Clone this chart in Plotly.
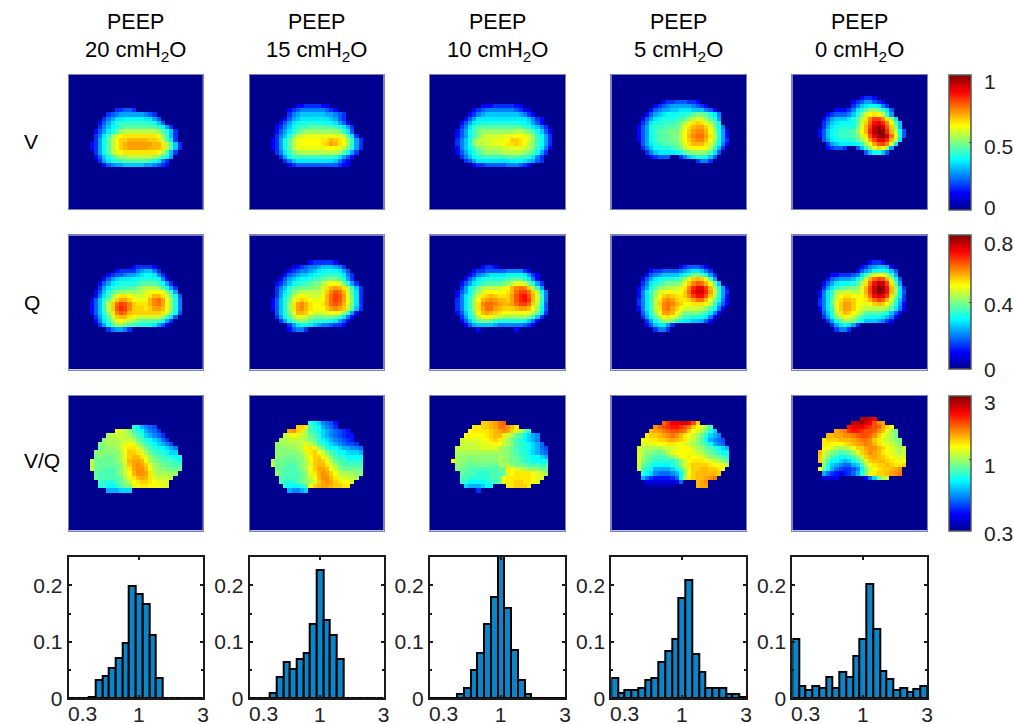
import math
import numpy as np
import plotly.graph_objects as go

FONT = "Liberation Sans, Arial, sans-serif"
PEEP_LABELS = ["20 cmH<sub>2</sub>O", "15 cmH<sub>2</sub>O", "10 cmH<sub>2</sub>O", "5 cmH<sub>2</sub>O", "0 cmH<sub>2</sub>O"]
ROW_LABELS = ["V", "Q", "V/Q"]

# Each map: first row, then "startcol levels|startcol levels" per row. Level 0..z = bottom..top of the colour range.
V_20 = (8, ["11 55665","9 567888888765","8 578aabbbbbaa86","7 468acdddddddcb96","7 579bcdeeeeeeeecb85","6 468aceghhhhhhhhgec95",
"6 57adgikllllllllјgd95".replace("ј","j"),"6 58behkmmnnnnnmmlhea5","5 458behkmnoooooonnlhe95","5 458behkmnooooonnnlhe95","6 58behjkllllllllkhe95",
"6 469bdfgghhhhhhgfdb8","7 58acddeeeeeedca75","8 4678899999887654"])
V_15 = (7, ["11 44555544","9 456777777654","9 57899999988765","8 4689aaaaaaa9865","7 468abccccccbba864","6 4579bdddeeeeeedca85",
"6 468acefggggggggfda6","6 579cfhijjjjjjjjjhea5","5 458behjkkkkkllnmlkgd85","5 458behjkkkkklmonlkgd85","5 458behjjjjjjjkkkjhfc85",
"6 57adfghhhhhhhhhgeb85","7 58bddddddddddca864","8 579aaaaaaaaa9754","9 456666666666544"])
V_10 = (7, ["12 4445555544","10 45677777776543","9 4578999999998754","8 468aaaaaaaaaaaa9754","7 468abcccccccccbba864","7 57adeeeeeeeeeeedca975",
"6 468bdfgggggggghhgfeb964","6 468bdfhiiiijjjkkjigdb85","6 579cfhiiijjjkmmlkigdb85","6 579cfhhiijjkllmlkhgdb85","6 479bdfghhhhiijjjihfda74",
"6 468acefgggghhhhhgfeb85","7 579bcddddddeeeddca75","8 568aaaaaaaabbba9865","10 45566666777654"])
V_5 = (6, ["12 455666554","10 4567888887654","9 4678899aaa999764","8 4689abbbccdeffeca7","7 468abcccddeghjigec8","7 57accdddefhjlmljheb",
"6 468bdddeeegjlnoomjfb7","6 468bdeefffhkmoppnkgc84","6 468bdeeeffhknpqqolhc84","6 468bdeeeffhkmoppnkgc85","7 68acdeeefgjlnnnlifb74",
"7 579bcccdefhjkkkjhd95","8 579aaaabcefggggea6","9 45666|16 579accb96","20 5775"])
V_0 = (5, ["16 4554","14 45688654","14 579abba75","10 44457aceggfda6","8 4566679cfiklkhd8","7 468999acehlpssplga","7 579abbbceimquvtpke9",
"7 58abccccfjnswywrmf9","6 469bcdddegkntxzytnhb6","6 469bcdddefilrvyzwqjc6","7 68abcccdegjosvvtnha","8 589aaaabdgkorspia",
"8 45665|15 69dgjmkg8","17 69bc96"])

Q_20 = (7, ["15 455554","11 45555789975","9 45667889abba75","8 4689aaabbccccb74","7 468abccccdeeeedb85","7 58acdddeefghhhgeb85",
"6 469cefggggghijkkjgd8","6 47adgjllkiiijlnnlifb6","5 469cfimoomkjjknpqokgc7","5 469dhmqsrpmlllnpqokgc7","5 469dhmrtspmmmlmoonkgc7",
"5 469cglprqnmmmmmmmlifb6","6 58beimnnlkiiiiiigda6","6 47adgjkjhgfeeeedb85","7 58beggfedcccba864","9 578875"])
Q_15 = (6, ["14 4555554","10 4456778999875","9 4567789abbbba86","8 467899abccdddca75","7 4689abbcddefffec85","6 4579bcddeffhikkifc85",
"6 579ceefffggilnonlhd95","6 58adfghhhhhjmprqniea5","6 58behjkjiiiknqsrojfa5","5 469cfjlmlkjjknqsrojfa5","5 469cglopnlkklnqrqnjfa5",
"5 469cglopnlkkkmopomie95","6 69cfjnnmkiiijkkjgd84","6 58behjjigfffffeda74","7 58befgfedcccba864","9 58abba98776554","9 46775"])
Q_10 = (7, ["12 4554","10 45566666777754","9 45789aaaabbbba854","8 468abccccddeeeca74","7 468acdeeeefghjjifc85","7 58bdfhhhhijknpqpmhd8",
"6 468begikkkjklnqssqmhc7","6 47acfilmnmllmorturnid7","6 57adgknoponnmortusnid7","6 57adglpqqponnoqssqmhc6","6 57adgloqqonmmmnoonkgb6",
"6 469cfknonmlkkjjkkjhea5","7 58behkkkihggggggfd95","7 469ceffedccccccb974","8 46899998777777654","11 4|20 4"])
Q_5 = (7, ["16 4566654","9 4556666789aa975","8 46789999abdffec85","7 468abcccdegjmnmje8","7 57acdefffgjmprqnke9","6 468begghhijlptvvsnhc84",
"6 47adgijkjjkmquwwtoid85","6 47adgkmnmllmpsuurmhc84","6 57adhlopomllmoqqnjfb74","6 57adhmpqpnmkklllkhd964","6 47adhlpqomkiiiihgeb74",
"7 69cgkoonkhffffeda74","7 58behkljhfddccba74","8 58beggfdbaa99864","8 469aa85","10 5775"])
Q_0 = (6, ["18 4554","16 45789984","15 4689bccb96","9 4455567adgjkkhd8","8 4678889beinqsrnhb6","7 468abbccehlquxwsle8","7 58adeeffgjnswzyunga5",
"6 47adghiihhjnswzyunga6","6 47adhkllkjkmquwvslfa5","6 57aeilnnmkklnqsrnid95","6 57aejmoomkjjkmnmkgc84","6 47adimoomkihhhhhgea74",
"7 69chlnmkigeeeedc964","7 58bfikjhfdcbbba974","8 58beggfdb9998754","9 58aba85","10 5775"])

VQ_20 = (7, ["15 dca987","11 jjigedca986","9 hiiiihfedba986","8 ghhhiiihfedcba86","7 gghhhijkjhfedcba97","7 fggghiklljhfedccba9",
"6 gggggghkmmljhfeddcbb","6 fgfffghjmnnljhfeeddcc","5 ifffffghjnoonkhgfeeedd","5 iffffffgimopomjhgffeee","5 iffeeefgiloppnkhggffff",
"6 feeeefgiknppolihhhhg","6 feeeeefhjlnonljiiih","7 edddefgiklmmlkjjj","7 ddccdefgjkllkkkjj","9 aaabbb"])
VQ_15 = (6, ["14 dcb9875","11 mmledca986","9 opmlhedcba98765","8 ijkjihfedba987655","7 hhiiiihgfdcba98765","6 ghhhhhijigedcba98776",
"6 gggghhikljhfdccbaa998","6 gggggghjlmkigedccbbba","6 ggfffggikmmkigeddcccc","5 hffffffghkmnmkhfeedddd","5 ifffeefghjmnnljhfeeeee",
"6 ffeeefghkmoonkigfffff","6 gfeeeefgjlnpomkihhhgg","7 eeeeefgiknppnljjiih","7 edddefghjmopomlkkj","8 dcccdekmnoonmmll","9 a99ab"])
VQ_10 = (6, ["12 mmnoqr","10 llmmnoqqpnl","9 kllllmnopomjifd","8 kkkkklmnnlihfecba9","7 jjjjjkklmlihfedcba9","7 iiiijjjkkkihgeddcba8",
"6 iiiiiijjjjhhgfeddcba87","6 hhhhhhhhhhhggfeddcba98","6 hggggggggghhgffeddccba","5 khggfgggggghggffeddcccc","6 ggffffffffghhgfffeeede",
"6 gffeeeeeeefflkjihgggff","7 feeedddeeefjkllllkjih","7 eedddddeefkllllllkjj","7 ddccccddefkllmmllkj","8 baaabcc|18 llmmml","11 6"])
VQ_5 = (6, ["12 rtvvwwvsm","10 prstuutsqmkjhe","9 nopqrssrqmkjhfdb","8 lmmnopqpnlkihfdba9","7 kkllmmnonmljigeca987","7 jjjkkkllkkjihgfeca98",
"6 iihhhhiijjkkkihgfedcba","6 jhggffghjkkkkjihgfedcc","6 jhffeeefgikklkkjiggfed","6 jgfedddddegiklllkjihgf","6 ifedccccdegjlmmmmlkkji",
"6 iedcaaaabcehjmmnnmmlk","7 dcb98889acgkmnnnnnm","7 a86555568chlmnnopq","8 433333348|20 nop","8 1111111|20 noo"])
VQ_0 = (5, ["16 xxwv","14 xxywvspo","13 uvvvutsromk","10 opqtuutssrpnkhf","8 nnooppqrssrpmkihf","7 lmmmnnnopqqpmljihgf","7 llkkklmnopqpnlkjihg",
"7 kkjhhhikmmoppnmkjihi","6 njhgfeffhjmnponlkjihi","6 migedccdegimnonmlkjjj","6 mheccbabcegjmnnnmlkjk","7 gdba988abehklmmnmllm",
"6 kfca876679cfiklmmnop","7 a8654568adgjlmmnopq","7 3334|17 48bfhi"])

V_MAPS = [V_20, V_15, V_10, V_5, V_0]
Q_MAPS = [Q_20, Q_15, Q_10, Q_5, Q_0]
VQ_MAPS = [VQ_20, VQ_15, VQ_10, VQ_5, VQ_0]

# Corrections of the level readings, found by comparing earlier draws with the reference.
CAL_READ = [0, 4, 6, 8, 10, 13, 17, 22, 28, 35]
CAL_TRUE = [0, 4.5, 7.5, 10, 12.5, 15, 19.5, 23.5, 28.5, 35]
CAL_VQ_READ = [0, 9, 13, 17, 22, 28, 35]
CAL_VQ_TRUE = [0, 9, 14.5, 19, 23.5, 28, 35]

HIST_20 = [0,0,0,.003,.033,.04,.054,.072,.097,.199,.184,.166,.112,.036,0,0,0,0,0,0]
HIST_15 = [0,0,0,.01,.038,.065,.052,.07,.081,.132,.227,.138,.112,.07,0,0,0,0,0,0]
HIST_10 = [0,0,0,0,.007,.018,.05,.081,.131,.18,.26,.159,.085,.032,.007,0,0,0,0,0]
HIST_5 = [.036,.01,.015,.015,.018,.032,.036,.065,.084,.105,.177,.209,.079,.047,.018,.018,.018,.008,.008,.002]
HIST_0 = [.105,.022,.015,.022,.018,.037,.019,.046,.037,.075,.105,.202,.123,.048,.034,.015,.019,.011,.016,.022]
HISTS = [HIST_20, HIST_15, HIST_10, HIST_5, HIST_0]

LOG_RANGE = [math.log10(0.3), math.log10(3)]
V_RANGE = [0, 1]
Q_RANGE = [0, 0.8]
VQ_RANGE = LOG_RANGE
CBAR_TICKS = [[0, .5, 1], [0, .4, .8], [math.log10(.3), 0, math.log10(3)]]
CBAR_TEXT = [[("1", 81), ("0.5", 146), ("0", 208)], [("0.8", 243), ("0.4", 304), ("0", 369)], [("3", 402), ("1", 465), ("0.3", 533)]]

W, H = 1014, 724
COL_X = [(68.7, 203), (249.7, 383.7), (430, 565), (611.3, 746), (792.3, 927)]
ROW_Y = [(74.5, 209), (235.3, 369.5), (395.5, 530.5)]
HIST_Y = (557, 698.3)

JET = [[0, "#00008f"], [.125, "#0000ff"], [.375, "#00ffff"], [.625, "#ffff00"], [.875, "#ff0000"], [1, "#800000"]]
LEVELS = "0123456789abcdefghijklmnopqrstuvwxyz"


def grid(spec, lo, hi, cal_read, cal_true):
    top, rows = spec
    z = [[lo] * 32 for _ in range(32)]
    for i, row in enumerate(rows):
        for seg in row.split("|"):
            col, s = seg.split()
            for j, c in enumerate(s):
                level = float(np.interp(LEVELS.index(c), cal_read, cal_true))
                z[top + i][int(col) + j] = lo + level / 35 * (hi - lo)
    return z


fig = go.Figure()
layout = {}
n = 0
for r, (maps, rng) in enumerate(zip([V_MAPS, Q_MAPS, VQ_MAPS], [V_RANGE, Q_RANGE, VQ_RANGE])):
    y0, y1 = ROW_Y[r]
    cal = (CAL_READ, CAL_TRUE) if r < 2 else (CAL_VQ_READ, CAL_VQ_TRUE)
    for c, m in enumerate(maps):
        n += 1
        x0, x1 = COL_X[c]
        fig.add_trace(go.Heatmap(z=grid(m, rng[0], rng[1], *cal), coloraxis="coloraxis" if r == 0 else f"coloraxis{r+1}",
                                 xaxis=f"x{n}", yaxis=f"y{n}", hoverinfo="skip"))
        border = dict(showline=True, linecolor="#7b82bb", linewidth=1, mirror=True, showticklabels=False, ticks="", showgrid=False, zeroline=False)
        layout[f"xaxis{n}"] = dict(domain=[x0 / W, x1 / W], range=[-.5, 31.5], anchor=f"y{n}", **border)
        layout[f"yaxis{n}"] = dict(domain=[1 - y1 / H, 1 - y0 / H], range=[31.5, -.5], anchor=f"x{n}", **border)
    layout["coloraxis" if r == 0 else f"coloraxis{r+1}"] = dict(
        colorscale=JET, cmin=rng[0], cmax=rng[1],
        colorbar=dict(x=949.3 / W, xanchor="left", xpad=0, ypad=0, y=1 - y0 / H, yanchor="top", thicknessmode="pixels", thickness=21.5,
                      lenmode="pixels", len=y1 - y0, outlinecolor="#555555", outlinewidth=1.5, tickmode="array", tickvals=CBAR_TICKS[r],
                      showticklabels=False, ticks="inside", ticklen=2, tickcolor="#333333", borderwidth=0))

centers = np.linspace(LOG_RANGE[0], LOG_RANGE[1], 41)[1::2]
binw = (LOG_RANGE[1] - LOG_RANGE[0]) / 20
annotations = []
for c, vals in enumerate(HISTS):
    n += 1
    x0, x1 = COL_X[c]
    fig.add_trace(go.Bar(x=centers, y=vals, width=binw, marker=dict(color="#0a85c8", line=dict(color="#000000", width=2)),
                         xaxis=f"x{n}", yaxis=f"y{n}", hoverinfo="skip", showlegend=False))
    common = dict(showline=True, linecolor="#1a1a1a", linewidth=2, mirror="allticks", ticks="inside", ticklen=3, tickwidth=1.5, tickcolor="#1a1a1a",
                  showgrid=False, zeroline=False, tickfont=dict(family=FONT, size=21, color="#222222"))
    layout[f"xaxis{n}"] = dict(domain=[x0 / W, x1 / W], range=LOG_RANGE, anchor=f"y{n}", tickmode="array", tickvals=[0, LOG_RANGE[1]], ticktext=["1", "3"],
                               ticklabelstandoff=-4, **common)
    layout[f"yaxis{n}"] = dict(domain=[1 - HIST_Y[1] / H, 1 - HIST_Y[0] / H], range=[0, .25], anchor=f"x{n}", tickmode="array",
                               tickvals=[0, .1, .2], ticktext=["0", "0.1", "0.2"],
                               minor=dict(tickmode="array", tickvals=[.05, .15], ticks="inside", ticklen=2, tickcolor="#1a1a1a"), **common)
    annotations.append(dict(text="0.3", x=(x0 + 13.5) / W, y=1 - 713 / H, xref="paper", yref="paper", xanchor="center", yanchor="middle",
                            showarrow=False, font=dict(family=FONT, size=21, color="#222222")))

for c, lab in enumerate(PEEP_LABELS):
    xc = sum(COL_X[c]) / 2 / W
    annotations.append(dict(text="PEEP", x=xc, y=1 - 22 / H, xref="paper", yref="paper", showarrow=False, xanchor="center", yanchor="middle", font=dict(family=FONT, size=21.5, color="#000000")))
    annotations.append(dict(text=lab, x=xc, y=1 - 51 / H, xref="paper", yref="paper", showarrow=False, xanchor="center", yanchor="middle", font=dict(family=FONT, size=22, color="#000000")))

for lab, yp in zip(ROW_LABELS, [141, 303, 460]):
    annotations.append(dict(text=lab, x=22 / W, y=1 - yp / H, xref="paper", yref="paper", showarrow=False, xanchor="left", yanchor="middle", font=dict(family=FONT, size=21, color="#000000")))

for items in CBAR_TEXT:
    for lab, yp in items:
        annotations.append(dict(text=lab, x=982 / W, y=1 - yp / H, xref="paper", yref="paper", showarrow=False, xanchor="left", yanchor="middle", font=dict(family=FONT, size=21, color="#222222")))

fig.update_layout(width=W, height=H, margin=dict(l=0, r=0, t=0, b=0, autoexpand=False), paper_bgcolor="white", plot_bgcolor="white", showlegend=False,
                  bargap=0, font=dict(family=FONT), annotations=annotations, **layout)
fig.write_html("out.html", config={"displayModeBar": False}, post_script="document.body.style.margin='0';document.body.style.overflow='hidden';")
